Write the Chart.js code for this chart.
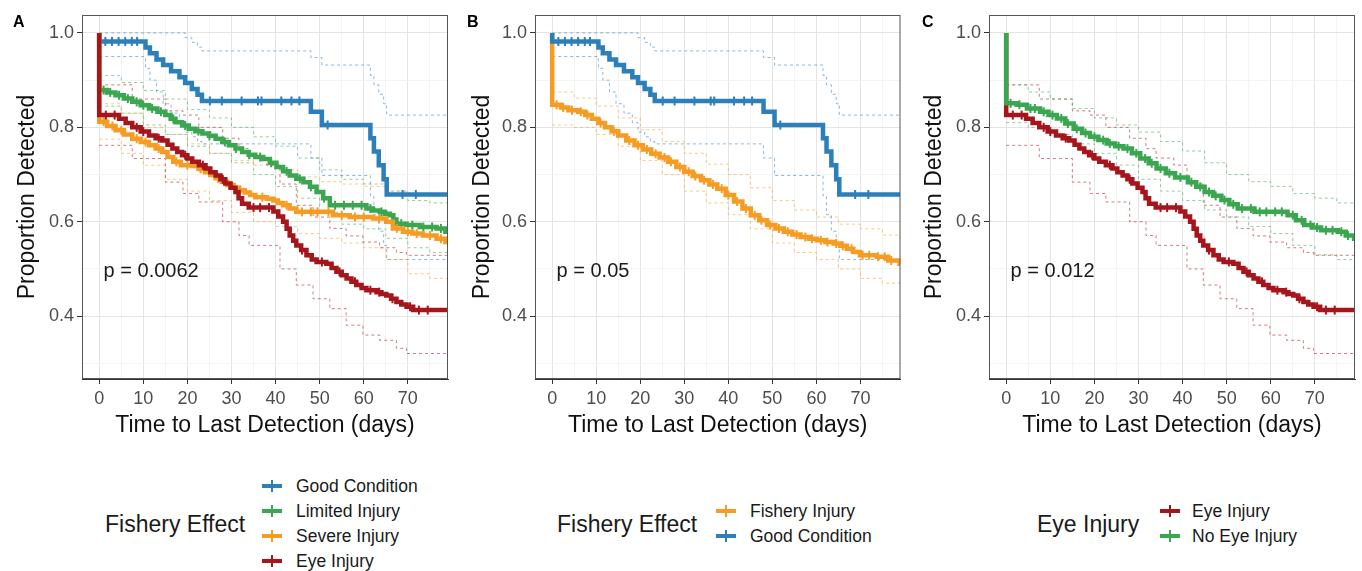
<!DOCTYPE html>
<html>
<head>
<meta charset="utf-8">
<script src="https://cdn.jsdelivr.net/npm/chart.js@4.4.1/dist/chart.umd.min.js"></script>
<style>
  body { margin: 0; background: #fff; font-family: "Liberation Sans", Arial, sans-serif; }
  #wrap { position: relative; width: 1362px; height: 571px; overflow: hidden; }
  .panel { position: absolute; top: 0; }
  .tag { position: absolute; top: 14px; font-size: 16px; line-height: 16px; font-weight: bold; color: #000; }
  .leg-title { position: absolute; font-size: 23px; color: #1a1a1a; white-space: nowrap; transform: translateY(-50%); }
  .leg-item { position: absolute; font-size: 17.5px; color: #1a1a1a; white-space: nowrap; transform: translateY(-50%); }
  .key { position: absolute; width: 20px; height: 4px; background: var(--c); transform: translateY(-50%); }
  .key::after { content: ""; position: absolute; left: 9px; top: -4px; width: 2px; height: 12px; background: var(--c); }
</style>
</head>
<body>
<div id="wrap">
  <canvas class="panel" id="chartA" width="455" height="450" style="left:0px"></canvas>
  <canvas class="panel" id="chartB" width="452" height="450" style="left:455px"></canvas>
  <canvas class="panel" id="chartC" width="455" height="450" style="left:907px"></canvas>
  <div class="tag" style="left:13px">A</div>
  <div class="tag" style="left:467px">B</div>
  <div class="tag" style="left:922px">C</div>
  <div id="legends"></div>
</div>
<script>
// axis ranges and ticks
const xMin = -3.9, xMax = 79.1;
const yMin = 0.267, yMax = 1.038;
const xTickValues = [0, 5, 10, 15, 20, 25, 30, 35, 40, 45, 50, 55, 60, 65, 70, 75];
const xLabelValues = [0, 10, 20, 30, 40, 50, 60, 70];
const yTickValues = [0.3, 0.4, 0.5, 0.6, 0.7, 0.8, 0.9, 1.0];
const yLabelValues = [0.4, 0.6, 0.8, 1.0];

const colors = {
  good: "#2c7fba",
  limited: "#3aa650",
  severe: "#f69c22",
  eye: "#a6141c",
  fishery: "#f69c22",
  noEye: "#3aa650"
};

// Good Condition (panels A and B)
const goodTime = [0, 0, 10.5, 11.5, 13, 14.5, 16.3, 18.2, 19.5, 21, 22.3, 23.3, 48, 50.5, 61.5, 62.3, 63.4, 64.5, 65.2, 79];
const goodSurv = [1.0, 0.982, 0.969, 0.957, 0.944, 0.932, 0.919, 0.906, 0.894, 0.881, 0.869, 0.856, 0.833, 0.805, 0.777, 0.749, 0.72, 0.69, 0.658, 0.658];
const goodCensor = [1.4, 2.9, 4.4, 5.9, 7.4, 8.6, 25.1, 27.8, 32.3, 36, 36.8, 41.3, 43.6, 45.4, 51.8, 68.8, 71.8];
const goodCiTime = [0, 10.5, 11.5, 13, 14.5, 16.3, 18.2, 19.5, 21, 22.3, 23.3, 48, 50.5, 61.5, 62.3, 63.4, 64.5, 65.2, 79];
const goodUpper = [1.0, 1.0, 1.0, 1.0, 1.0, 1.0, 1.0, 0.99, 0.98, 0.97, 0.962, 0.948, 0.932, 0.91, 0.89, 0.87, 0.85, 0.826, 0.826];
const goodLower = [0.95, 0.925, 0.9, 0.875, 0.85, 0.83, 0.81, 0.79, 0.78, 0.77, 0.765, 0.735, 0.698, 0.655, 0.615, 0.58, 0.55, 0.52, 0.52];

// Limited Injury (panel A)
const limitedTime = [0, 0, 1.8, 3.7, 5.6, 7.5, 9.4, 11.3, 13.2, 15, 16.2, 17.3, 18.8, 20.3, 21.8, 23.4, 24.9, 26.4, 27.9, 29.4, 30.9, 32.4, 33.9, 35.4, 37.2, 38.7, 40.2, 41.7, 43.2, 44.7, 46.3, 47.8, 49.3, 50.8, 52.3, 60.6, 62.1, 63.6, 64.8, 65.9, 66.7, 67.4, 69.7, 72.7, 76.5, 78.5, 79];
const limitedSurv = [1.0, 0.879, 0.874, 0.868, 0.861, 0.854, 0.847, 0.84, 0.833, 0.826, 0.818, 0.811, 0.804, 0.797, 0.792, 0.787, 0.782, 0.776, 0.769, 0.762, 0.755, 0.748, 0.742, 0.737, 0.733, 0.725, 0.716, 0.707, 0.698, 0.691, 0.684, 0.674, 0.663, 0.65, 0.635, 0.628, 0.624, 0.621, 0.617, 0.614, 0.605, 0.596, 0.593, 0.589, 0.586, 0.579, 0.579];
const limitedCensor = [1, 2.5, 4.5, 6.5, 8.5, 10, 12, 14, 16.8, 19.5, 22.5, 25, 28.5, 31, 34, 36.5, 39, 42.5, 45.5, 48, 51, 53.5, 55.5, 57.5, 59.5, 61.5, 64, 68.5, 71, 73.5, 75.5, 77.5];
const limitedCiTime = [0, 5, 10, 15, 20, 25, 30, 35, 40, 45, 50, 55, 60, 65, 70, 75, 79];
const limitedUpper = [0.91, 0.895, 0.878, 0.86, 0.838, 0.82, 0.8, 0.78, 0.76, 0.735, 0.71, 0.69, 0.68, 0.665, 0.645, 0.64, 0.635];
const limitedLower = [0.845, 0.83, 0.805, 0.785, 0.76, 0.745, 0.725, 0.7, 0.675, 0.65, 0.62, 0.595, 0.585, 0.565, 0.545, 0.535, 0.525];

// Severe Injury (panel A)
const severeTime = [0, 0, 1.8, 3.7, 5.6, 7.5, 9.4, 11.3, 12.8, 14.3, 15.5, 16.8, 18.5, 21, 22.5, 24, 25.2, 26.4, 27.8, 29, 30.5, 31.7, 33, 34.2, 35.4, 38, 39.5, 40.5, 41.7, 43.2, 44.7, 53, 56.8, 62.1, 65.1, 66.6, 68.9, 71, 73.4, 76.5, 78.5, 79];
const severeSurv = [1.0, 0.812, 0.803, 0.794, 0.785, 0.776, 0.769, 0.762, 0.755, 0.748, 0.737, 0.727, 0.72, 0.718, 0.712, 0.705, 0.699, 0.692, 0.685, 0.678, 0.672, 0.667, 0.662, 0.657, 0.652, 0.649, 0.645, 0.64, 0.635, 0.628, 0.621, 0.614, 0.61, 0.607, 0.6, 0.586, 0.579, 0.575, 0.571, 0.564, 0.557, 0.557];
const severeCensor = [1, 3, 5, 8.5, 10.5, 13.5, 17.5, 20, 23, 27, 29.5, 32, 37, 42.5, 46, 48, 49.5, 52, 55, 58, 60, 63.5, 67.5, 70, 72, 75, 77.5];
const severeCiTime = [0, 5, 10, 15, 20, 25, 30, 35, 40, 45, 50, 55, 60, 65, 70, 75, 79];
const severeUpper = [0.85, 0.83, 0.8, 0.785, 0.765, 0.745, 0.73, 0.72, 0.71, 0.695, 0.685, 0.68, 0.675, 0.665, 0.66, 0.655, 0.65];
const severeLower = [0.775, 0.745, 0.72, 0.69, 0.665, 0.645, 0.62, 0.6, 0.59, 0.575, 0.565, 0.555, 0.545, 0.52, 0.49, 0.48, 0.47];

// Eye Injury (panels A and C)
const eyeTime = [0, 0, 4.5, 6, 7.5, 9.4, 11.3, 12.8, 14.3, 15.5, 16.6, 17.7, 18.8, 20, 21.1, 22.6, 24.1, 25.2, 26.4, 27.5, 28.6, 29.8, 30.9, 31.6, 32.4, 33.9, 39.5, 40.6, 41.7, 42.5, 43.2, 44, 44.7, 45.8, 47, 48.2, 49.3, 51.5, 52.7, 53.8, 55, 56.1, 57.2, 58.3, 59.5, 60.6, 62.9, 64, 65.1, 66.2, 67.4, 68.5, 69.7, 71.2, 79];
const eyeSurv = [1.0, 0.826, 0.818, 0.809, 0.8, 0.791, 0.783, 0.777, 0.772, 0.763, 0.755, 0.748, 0.741, 0.734, 0.727, 0.72, 0.713, 0.705, 0.698, 0.69, 0.681, 0.672, 0.663, 0.65, 0.638, 0.63, 0.622, 0.611, 0.6, 0.585, 0.571, 0.56, 0.55, 0.54, 0.529, 0.52, 0.515, 0.511, 0.502, 0.494, 0.487, 0.48, 0.473, 0.466, 0.46, 0.455, 0.451, 0.447, 0.444, 0.437, 0.43, 0.425, 0.42, 0.413, 0.413];
const eyeCensor = [1.5, 3.5, 8.5, 10, 13.5, 19.5, 23.5, 28, 35, 36.5, 38.5, 46, 50.5, 54.5, 58, 61.5, 63.5, 66.5, 70.5, 72.5, 74.5];
const eyeCiTime = [0, 7.5, 15, 19, 22.6, 28, 31.7, 34, 38, 41, 44.7, 48.5, 52.3, 56, 59.8, 63.6, 67.4, 69.7, 79];
const eyeUpper = [0.89, 0.86, 0.835, 0.826, 0.8, 0.777, 0.755, 0.735, 0.72, 0.68, 0.635, 0.61, 0.586, 0.57, 0.557, 0.545, 0.535, 0.529, 0.52];
const eyeLower = [0.762, 0.734, 0.684, 0.66, 0.642, 0.6, 0.571, 0.55, 0.55, 0.5, 0.466, 0.437, 0.416, 0.381, 0.36, 0.349, 0.332, 0.321, 0.321];

// Fishery Injury (panel B)
const fisheryTime = [0, 0, 2, 3.7, 5.9, 7.5, 9, 10.5, 12, 13.5, 15, 16.8, 18.7, 20.6, 22.5, 24.4, 26.3, 28.2, 30, 31.9, 33.8, 35.7, 37.5, 39.4, 41.3, 43.2, 45.1, 47, 48.8, 50.7, 52.6, 54.5, 56.4, 58.3, 60.1, 62, 63.9, 65.4, 66.9, 68.4, 69.9, 73.7, 76.3, 78.9, 79];
const fisherySurv = [1.0, 0.848, 0.842, 0.836, 0.833, 0.826, 0.818, 0.809, 0.8, 0.792, 0.783, 0.772, 0.762, 0.753, 0.744, 0.736, 0.727, 0.716, 0.706, 0.697, 0.688, 0.679, 0.67, 0.657, 0.643, 0.628, 0.614, 0.603, 0.593, 0.586, 0.579, 0.573, 0.568, 0.564, 0.561, 0.557, 0.554, 0.549, 0.543, 0.536, 0.529, 0.526, 0.518, 0.511, 0.511];
const fisheryCensor = [1, 2.5, 4.5, 6.5, 8, 11, 14, 17.5, 19.5, 21.5, 23.5, 25.5, 27, 29, 31, 32.5, 34.5, 36.5, 38.5, 40, 42, 44, 46, 47.5, 49.5, 51.5, 53.5, 55.5, 57.5, 59, 61, 62.5, 64.5, 66, 68, 70.5, 72, 74, 75.5, 77];
const fisheryCiTime = [0, 5, 10, 15, 20, 25, 30, 35, 40, 45, 50, 55, 60, 65, 70, 75, 79];
const fisheryUpper = [0.875, 0.862, 0.845, 0.82, 0.795, 0.77, 0.745, 0.722, 0.7, 0.672, 0.645, 0.625, 0.61, 0.595, 0.585, 0.572, 0.565];
const fisheryLower = [0.805, 0.8, 0.785, 0.76, 0.73, 0.7, 0.665, 0.64, 0.615, 0.585, 0.555, 0.535, 0.52, 0.5, 0.48, 0.47, 0.465];

// No Eye Injury (panel C)
const noEyeTime = [0, 0, 2.4, 4.7, 7.7, 9.6, 11.5, 13.4, 15.3, 17.2, 19, 20.9, 22.8, 24.7, 26.6, 28.5, 30.4, 32.3, 34.1, 36.2, 38.3, 41.2, 43.1, 45, 46.9, 48.8, 50.6, 52.5, 56.3, 63.8, 65.7, 67.6, 69.5, 71.4, 75.2, 77, 78.9, 79];
const noEyeSurv = [1.0, 0.851, 0.848, 0.84, 0.833, 0.826, 0.819, 0.808, 0.797, 0.788, 0.78, 0.773, 0.766, 0.76, 0.755, 0.745, 0.734, 0.724, 0.713, 0.703, 0.694, 0.684, 0.674, 0.663, 0.655, 0.646, 0.637, 0.628, 0.621, 0.614, 0.603, 0.593, 0.588, 0.582, 0.579, 0.571, 0.564, 0.564];
const noEyeCensor = [1, 3, 5.5, 6.5, 8.5, 10.5, 12.5, 14, 16, 18, 20, 22, 23.5, 25.5, 27.5, 29.5, 31.5, 33, 35, 37, 39.5, 42, 44, 46, 47.5, 49.5, 51.5, 53.5, 55.5, 57.5, 59, 61, 62.5, 65, 67, 69, 70.5, 72.5, 74, 76, 77.5];
const noEyeCiTime = [0, 5, 10, 15, 20, 25, 30, 35, 40, 45, 50, 55, 60, 65, 70, 75, 79];
const noEyeUpper = [0.89, 0.875, 0.86, 0.84, 0.82, 0.805, 0.79, 0.77, 0.75, 0.725, 0.7, 0.685, 0.675, 0.66, 0.65, 0.64, 0.635];
const noEyeLower = [0.81, 0.8, 0.785, 0.765, 0.745, 0.72, 0.69, 0.665, 0.645, 0.625, 0.61, 0.59, 0.575, 0.55, 0.53, 0.52, 0.515];

Chart.defaults.font.family = "'Liberation Sans', Arial, sans-serif";

function toPoints(times, values) {
  return times.map((t, i) => ({ x: t, y: values[i] }));
}

function survAt(times, values, t) {
  let v = values[0];
  for (let i = 0; i < times.length; i += 1) {
    if (times[i] <= t) v = values[i];
  }
  return v;
}

function alpha(hex, a) {
  const n = parseInt(hex.slice(1), 16);
  return `rgba(${n >> 16}, ${(n >> 8) & 255}, ${n & 255}, ${a})`;
}

function curveSets(times, values, censor, ciTime, upper, lower, color, order) {
  const ci = {
    borderColor: alpha(color, 0.55),
    borderWidth: 1,
    borderDash: [3, 3],
    stepped: "before",
    pointRadius: 0,
    order: 20
  };
  return [
    {
      data: toPoints(times, values),
      borderColor: color,
      borderWidth: 4.5,
      stepped: "before",
      pointRadius: 0,
      order
    },
    {
      data: censor.map(t => ({ x: t, y: survAt(times, values, t) })),
      showLine: false,
      pointStyle: "line",
      rotation: 90,
      pointRadius: 4.5,
      pointBorderWidth: 2,
      pointBorderColor: color,
      borderColor: color,
      order
    },
    { ...ci, data: toPoints(ciTime, upper) },
    { ...ci, data: toPoints(ciTime, lower) }
  ];
}

const panelDecor = {
  id: "panelDecor",
  afterDatasetsDraw(chart, args, opts) {
    const { ctx, chartArea: a, scales } = chart;
    ctx.save();
    ctx.strokeStyle = "#555";
    ctx.lineWidth = 1;
    ctx.strokeRect(a.left + 0.5, a.top + 0.5, a.width - 1, a.height - 1);
    ctx.fillStyle = "#1a1a1a";
    ctx.font = "20px 'Liberation Sans', Arial, sans-serif";
    ctx.textAlign = "left";
    ctx.textBaseline = "middle";
    ctx.fillText(opts.text, scales.x.getPixelForValue(opts.x), scales.y.getPixelForValue(opts.y));
    ctx.restore();
  }
};

const isMajorX = v => v % 10 === 0;
const isLabelY = v => yLabelValues.some(l => Math.abs(l - v) < 1e-6);

function makeChart(id, datasets, pText, yAxisWidth, rightPad) {
  return new Chart(document.getElementById(id), {
    type: "line",
    data: { datasets },
    plugins: [panelDecor],
    options: {
      responsive: false,
      animation: false,
      devicePixelRatio: 1,
      layout: { padding: { top: 15, right: rightPad, left: 0, bottom: 0 } },
      plugins: {
        legend: { display: false },
        tooltip: { enabled: false },
        panelDecor: { text: pText, x: 1, y: 0.495 }
      },
      scales: {
        x: {
          type: "linear",
          min: xMin,
          max: xMax,
          afterBuildTicks: scale => { scale.ticks = xTickValues.map(v => ({ value: v })); },
          afterFit: scale => {
            scale.height = 71;
            scale.paddingLeft = 0;
            scale.paddingRight = 0;
          },
          grid: {
            color: c => (c.tick && isMajorX(c.tick.value) ? "#e4e4e4" : "#f1f1f1"),
            lineWidth: c => (c.tick && isMajorX(c.tick.value) ? 1 : 0.8),
            tickColor: c => (c.tick && xLabelValues.includes(c.tick.value) ? "#333" : "transparent"),
            tickLength: 5
          },
          border: { color: "#333", width: 1 },
          ticks: {
            autoSkip: false,
            maxRotation: 0,
            padding: 4,
            color: "#4d4d4d",
            font: { size: 18 },
            callback: v => (xLabelValues.includes(v) ? String(v) : "")
          },
          title: {
            display: true,
            text: "Time to Last Detection (days)",
            color: "#111",
            font: { size: 23 },
            padding: { top: 0, bottom: 11 }
          }
        },
        y: {
          type: "linear",
          min: yMin,
          max: yMax,
          afterBuildTicks: scale => { scale.ticks = yTickValues.map(v => ({ value: v })); },
          afterFit: scale => {
            scale.width = yAxisWidth;
            scale.paddingTop = 0;
            scale.paddingBottom = 0;
          },
          grid: {
            color: c => (c.tick && isLabelY(c.tick.value) ? "#e4e4e4" : "#f1f1f1"),
            lineWidth: c => (c.tick && isLabelY(c.tick.value) ? 1 : 0.8),
            tickColor: c => (c.tick && isLabelY(c.tick.value) ? "#333" : "transparent"),
            tickLength: 5
          },
          border: { color: "#333", width: 1 },
          ticks: {
            autoSkip: false,
            padding: 3,
            color: "#4d4d4d",
            font: { size: 18 },
            callback: v => (isLabelY(v) ? v.toFixed(1) : "")
          },
          title: {
            display: true,
            text: "Proportion Detected",
            color: "#111",
            font: { size: 23 },
            padding: { top: 14, bottom: 0 }
          }
        }
      }
    }
  });
}

makeChart("chartA", [
  ...curveSets(eyeTime, eyeSurv, eyeCensor, eyeCiTime, eyeUpper, eyeLower, colors.eye, 1),
  ...curveSets(severeTime, severeSurv, severeCensor, severeCiTime, severeUpper, severeLower, colors.severe, 2),
  ...curveSets(limitedTime, limitedSurv, limitedCensor, limitedCiTime, limitedUpper, limitedLower, colors.limited, 3),
  ...curveSets(goodTime, goodSurv, goodCensor, goodCiTime, goodUpper, goodLower, colors.good, 4)
], "p = 0.0062", 82, 7);

makeChart("chartB", [
  ...curveSets(goodTime, goodSurv, goodCensor, goodCiTime, goodUpper, goodLower, colors.good, 1),
  ...curveSets(fisheryTime, fisherySurv, fisheryCensor, fisheryCiTime, fisheryUpper, fisheryLower, colors.fishery, 2)
], "p = 0.05", 80, 5);

makeChart("chartC", [
  ...curveSets(noEyeTime, noEyeSurv, noEyeCensor, noEyeCiTime, noEyeUpper, noEyeLower, colors.noEye, 1),
  ...curveSets(eyeTime, eyeSurv, eyeCensor, eyeCiTime, eyeUpper, eyeLower, colors.eye, 2)
], "p = 0.012", 82, 7);

// legends below each panel
const legends = [
  {
    title: "Fishery Effect", titleLeft: 105, keyLeft: 262, textLeft: 296,
    items: [
      { label: "Good Condition", color: colors.good, y: 486 },
      { label: "Limited Injury", color: colors.limited, y: 511 },
      { label: "Severe Injury", color: colors.severe, y: 536 },
      { label: "Eye Injury", color: colors.eye, y: 561 }
    ]
  },
  {
    title: "Fishery Effect", titleLeft: 557, keyLeft: 716, textLeft: 750,
    items: [
      { label: "Fishery Injury", color: colors.fishery, y: 511 },
      { label: "Good Condition", color: colors.good, y: 536 }
    ]
  },
  {
    title: "Eye Injury", titleLeft: 1037, keyLeft: 1160, textLeft: 1192,
    items: [
      { label: "Eye Injury", color: colors.eye, y: 511 },
      { label: "No Eye Injury", color: colors.noEye, y: 536 }
    ]
  }
];

document.getElementById("legends").innerHTML = legends.map(lg => `
  <div class="leg-title" style="left:${lg.titleLeft}px; top:524px">${lg.title}</div>
  ${lg.items.map(item => `
    <div class="key" style="--c:${item.color}; left:${lg.keyLeft}px; top:${item.y}px"></div>
    <div class="leg-item" style="left:${lg.textLeft}px; top:${item.y}px">${item.label}</div>
  `).join("")}
`).join("");
</script>
</body>
</html>
